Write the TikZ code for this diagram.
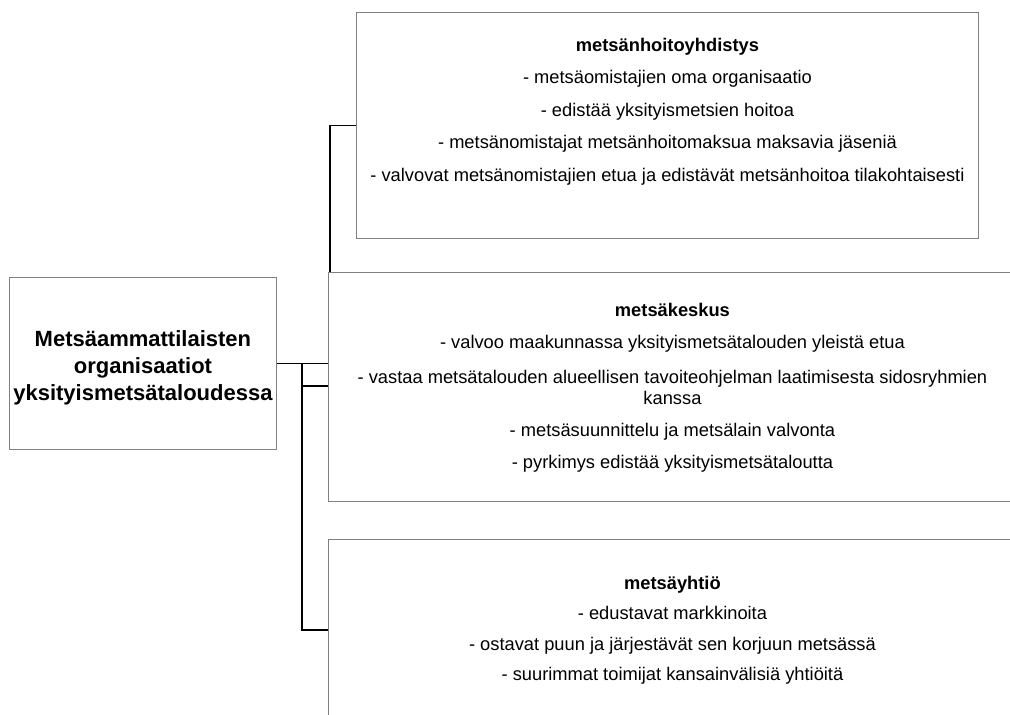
\documentclass[tikz,border=0pt]{standalone}
\usepackage{fontspec}
\setmainfont{Liberation Sans}
\usetikzlibrary{positioning}
\begin{document}
\begin{tikzpicture}[x=1pt,y=-1pt,line join=miter,
	box/.style={draw=black!50,line width=0.9pt,anchor=north west,inner sep=0pt},
	txt/.style={align=center,inner sep=0pt,font=\fontsize{18.3}{32.5}\selectfont},
	link/.style={line width=1.6pt,black}]
	\clip (0,0) rectangle (1010,715);
	% laatikot
	\node[box,minimum width=267pt,minimum height=172pt] (root) at (9,277) {};
	\node[box,minimum width=622pt,minimum height=226pt] (hoito) at (356,12) {};
	\node[box,minimum width=688pt,minimum height=229pt] (keskus) at (328,272) {};
	\node[box,minimum width=688pt,minimum height=220pt] (yhtio) at (328,539) {};
	% tekstit
	\node[txt,yshift=-4pt,font=\fontsize{22}{27}\selectfont\bfseries] (rootteksti) at (root)
		{Metsäammattilaisten\\organisaatiot\\yksityismetsätaloudessa};
	\node[txt,below=26pt of hoito.north] (hoitoteksti)
		{\textbf{metsänhoitoyhdistys}\\
		- metsäomistajien oma organisaatio\\
		- edistää yksityismetsien hoitoa\\
		- metsänomistajat metsänhoitomaksua maksavia jäseniä\\
		- valvovat metsänomistajien etua ja edistävät metsänhoitoa tilakohtaisesti};
	\node[txt,below=31pt of keskus.north,font=\fontsize{18.3}{32}\selectfont] (keskusteksti)
		{\textbf{metsäkeskus}\\
		- valvoo maakunnassa yksityismetsätalouden yleistä etua\\[3pt]
		- vastaa metsätalouden alueellisen tavoiteohjelman laatimisesta sidosryhmien\\[-11pt]
		kanssa\\
		- metsäsuunnittelu ja metsälain valvonta\\
		- pyrkimys edistää yksityismetsätaloutta};
	\node[txt,below=37pt of yhtio.north,font=\fontsize{18.3}{30.5}\selectfont] (yhtioteksti)
		{\textbf{metsäyhtiö}\\
		- edustavat markkinoita\\
		- ostavat puun ja järjestävät sen korjuun metsässä\\
		- suurimmat toimijat kansainvälisiä yhtiöitä};
	% yhteydet
	\coordinate (haara) at (302,363);
	\coordinate (haara2) at (302,386);
	\coordinate (yhtioin) at (328,630);
	\draw[link] (root.east) -- (root.east -| keskus.west);
	\draw[link] (haara) |- (yhtioin);
	\draw[link] (haara2) -- (haara2 -| keskus.west);
	\draw[link] (hoito.west) -| ([xshift=2pt]keskus.north west);
\end{tikzpicture}
\end{document}
